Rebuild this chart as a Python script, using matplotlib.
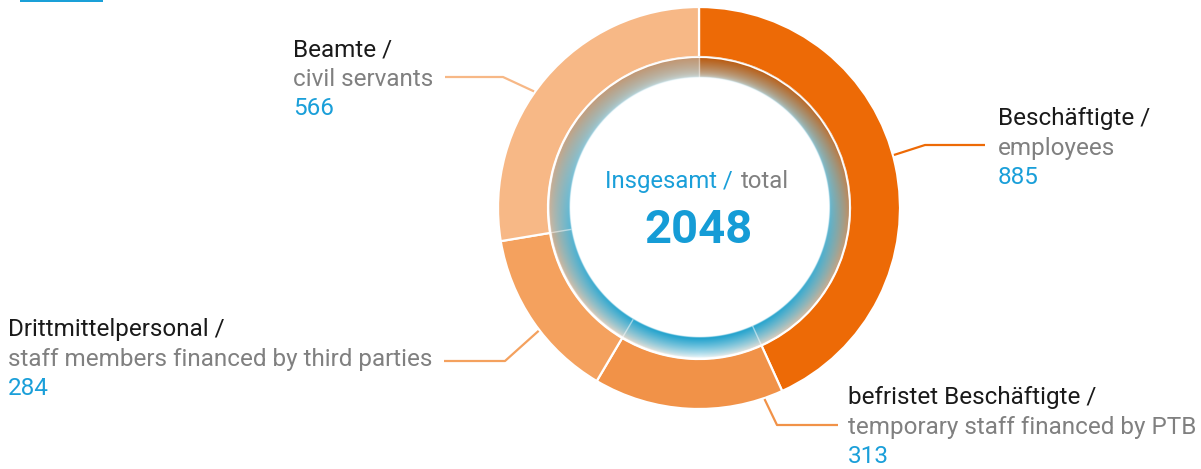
import numpy as np
import matplotlib.pyplot as plt
from matplotlib.colors import to_rgb
from matplotlib.patches import Circle, Rectangle

# data
labels_de = ['Beschäftigte /', 'befristet Beschäftigte /', 'Drittmittelpersonal /', 'Beamte /']
labels_en = ['employees', 'temporary staff financed by PTB',
             'staff members financed by third parties', 'civil servants']
values = [885, 313, 284, 566]
colors = ['#ED6A06', '#F19248', '#F4A15E', '#F7B886']
total_de = 'Insgesamt /'
total_en = 'total'

BLUE = '#1A9FD9'
GREY = '#808080'
BLACK = '#1A1A1A'
FONT = ['Roboto', 'DejaVu Sans']

W, H = 1201, 469
fig = plt.figure(figsize=(W / 100, H / 100), dpi=100)
ax = fig.add_axes([0, 0, 1, 1])

cx, cy = 699, H - 208
r_out, r_sep, r_in = 201, 150.5, 130

# outer donut
ax.pie(values, colors=colors, startangle=90, counterclock=False,
       radius=r_out, center=(cx, cy),
       wedgeprops=dict(width=r_out - 151, edgecolor='white', linewidth=1.6))

# inner shaded ring (segment colour on top, blue glow towards the bottom)
step = 0.5
xs = np.arange(cx - r_sep - 2, cx + r_sep + 2, step)
ys = np.arange(cy - r_sep - 2, cy + r_sep + 2, step)
X, Y = np.meshgrid(xs, ys)
dx, dy = X - cx, Y - cy
r = np.hypot(dx, dy)
phi = np.arctan2(dy, dx)
clock = (90 - np.degrees(phi)) % 360
cum = np.cumsum(values) / sum(values) * 360
idx = np.searchsorted(cum, clock, side='right').clip(0, len(values) - 1)
seg = np.array([to_rgb(c) for c in colors])[idx] * 0.8
t = ((r - r_in) / (r_sep - r_in)).clip(0, 1)
s = (1 - np.sin(phi)) / 2
a_o = np.sqrt(1 - s) * t ** 0.4
a_b = (0.18 + 0.82 * s ** 0.8) * (0.06 + 0.94 * (1 - t) ** 0.8)
rgb = np.ones(X.shape + (3,))
rgb = rgb * (1 - a_o[..., None]) + seg * a_o[..., None]
rgb = rgb * (1 - a_b[..., None]) + np.array(to_rgb('#1A9FCB')) * a_b[..., None]
alpha = (r - r_in + 0.5).clip(0, 1) * (r_sep - r + 0.5).clip(0, 1)
ax.imshow(np.dstack([rgb, alpha]), origin='lower', interpolation='bilinear',
          extent=[xs[0], xs[-1] + step, ys[0], ys[-1] + step], zorder=3)

ax.add_patch(Circle((cx, cy), r_sep + 0.3, fill=False, ec='white', lw=1.2, zorder=4))
for a in np.concatenate([[0], cum[:-1]]):
    th = np.radians(90 - a)
    ax.plot([cx + r_in * np.cos(th), cx + r_sep * np.cos(th)],
            [cy + r_in * np.sin(th), cy + r_sep * np.sin(th)],
            color='white', alpha=0.5, lw=1, zorder=4)

# centre text
ax.text(733, H - 188, total_de, color=BLUE, fontsize=17.2,
        family=FONT, ha='right', va='baseline')
ax.text(741, H - 188, total_en, color=GREY, fontsize=17.2,
        family=FONT, ha='left', va='baseline')
ax.text(cx, H - 243, str(sum(values)), color='#159CD6', fontsize=34,
        fontweight='bold', family=FONT, ha='center', va='baseline')

# labels with leader lines
label_x = [998, 848, 8, 293]
label_base = [125, 404, 336, 56]
elbow = [(925, 145), (777, 425), (505, 361), (503, 77)]
line_end = [(985, 145), (838, 425), (444, 361), (445, 77)]
anchor_shift = [-3, -22, -3, -5]
mids = cum - np.array(values) / sum(values) * 180
gap = 29.5
for i in range(len(values)):
    th = np.radians(90 - (mids[i] + anchor_shift[i]))
    x0, y0 = cx + (r_out + 1) * np.cos(th), cy + (r_out + 1) * np.sin(th)
    ax.plot([x0, elbow[i][0], line_end[i][0]],
            [y0, H - elbow[i][1], H - line_end[i][1]],
            color=colors[i], lw=1.6, solid_capstyle='butt', zorder=1)
    yb = H - label_base[i]
    ax.text(label_x[i], yb, labels_de[i], color=BLACK, fontsize=17.5,
            family=FONT, va='baseline')
    ax.text(label_x[i], yb - gap, labels_en[i], color=GREY, fontsize=17.5,
            family=FONT, va='baseline')
    ax.text(label_x[i], yb - 2 * gap, str(values[i]), color=BLUE, fontsize=17.5,
            family=FONT, va='baseline')

# small blue bar top-left
ax.add_patch(Rectangle((20, H - 2), 83, 2, color='#1AA0D8', lw=0))

ax.set_xlim(0, W)
ax.set_ylim(0, H)
ax.set_aspect('auto')
ax.axis('off')
fig.savefig('out.png', dpi=100)
